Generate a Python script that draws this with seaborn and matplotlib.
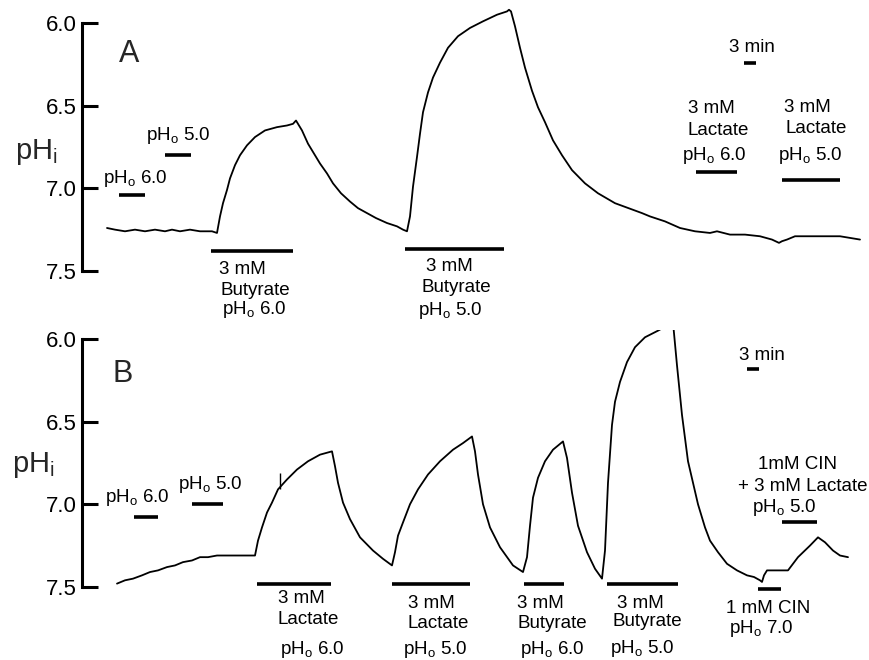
import matplotlib
matplotlib.use("Agg")
import matplotlib.pyplot as plt
import pandas as pd
import seaborn as sns

# ---------------- data ----------------
# Panel A: intracellular pH trace (time in min)
time_a = [6.25, 8.25, 10.75, 13.25, 15.75, 18.25, 20.75, 22.5, 24.5, 27.0, 29.5, 30.75, 32.5, 33.75,
          34.5, 35.25, 36.25, 37.0, 38.25, 39.5, 41.25, 43.25, 45.75, 48.75, 51.25, 52.75, 53.5,
          55.0, 56.5, 58.0, 59.5, 61.25, 62.75, 64.75, 67.0, 69.0, 71.25, 73.5, 76.25, 78.75,
          80.25, 81.25,
          82.0, 82.75, 83.75, 84.5, 85.25, 86.5, 87.75, 89.5, 91.5, 94.0, 97.0, 100.25, 103.75,
          106.25, 106.75,
          107.25, 108.25, 109.5, 110.75, 112.5, 114.0, 115.75, 117.75, 120.0, 122.5, 125.75,
          129.0, 133.25, 140.0, 142.0, 145.75, 149.5, 153.25, 157.0, 158.75, 162.0, 165.75,
          169.5, 172.5, 174.25, 175.0, 176.25, 178.25, 181.25, 184.5, 187.0, 189.5, 192.0, 194.5]
ph_a = [7.24, 7.25, 7.26, 7.25, 7.26, 7.25, 7.26, 7.25, 7.26, 7.25, 7.26, 7.26, 7.26, 7.27,
        7.17, 7.09, 7.01, 6.94, 6.86, 6.80, 6.74, 6.69, 6.65, 6.63, 6.62, 6.61, 6.59,
        6.65, 6.73, 6.79, 6.85, 6.91, 6.97, 7.03, 7.08, 7.12, 7.15, 7.18, 7.21, 7.23,
        7.25, 7.26,
        7.17, 6.99, 6.81, 6.67, 6.54, 6.42, 6.33, 6.24, 6.15, 6.08, 6.03, 5.99, 5.95,
        5.93, 5.92,
        5.93, 6.02, 6.15, 6.27, 6.41, 6.51, 6.60, 6.71, 6.80, 6.89, 6.97,
        7.03, 7.09, 7.15, 7.17, 7.20, 7.24, 7.26, 7.27, 7.26, 7.28, 7.28,
        7.29, 7.31, 7.33, 7.32, 7.31, 7.29, 7.29, 7.29, 7.29, 7.29, 7.30, 7.31]

# Panel B: intracellular pH trace (time in min)
time_b = [8.75, 10.75, 12.75, 15.0, 17.0, 19.0, 21.25, 23.25, 25.25, 27.5, 29.5, 31.5, 33.75,
          35.75, 37.75, 40.75, 43.25,
          44.0, 45.0, 46.25, 47.5, 49.0, 51.25, 53.75, 56.5, 59.5, 62.5,
          63.25, 64.0, 65.25, 67.0, 69.5, 72.75, 75.25, 77.5,
          78.25, 79.0, 80.25, 82.0, 84.0, 86.5, 89.5, 92.75, 95.25, 97.5,
          98.25, 99.0, 100.25, 102.0, 104.5, 107.75, 110.25,
          111.25, 112.0, 112.75, 114.0, 115.75, 117.75, 120.25,
          121.25, 122.5, 124.0, 126.25, 128.25, 130.0,
          130.75, 131.5, 132.5, 133.25, 134.5, 136.25, 138.25, 140.75, 144.0, 147.75,
          148.75, 150.0, 151.5, 154.0, 155.75, 157.0, 159.0, 161.25, 163.75, 166.25, 168.0, 169.5,
          170.0, 170.5, 171.25, 172.75, 174.5, 175.75, 176.5, 179.0, 182.0, 184.0, 185.75,
          187.75, 189.5, 191.5]
ph_b = [7.48, 7.46, 7.45, 7.43, 7.41, 7.40, 7.38, 7.37, 7.35, 7.34, 7.32, 7.32, 7.31,
        7.31, 7.31, 7.31, 7.31,
        7.22, 7.14, 7.05, 6.99, 6.91, 6.85, 6.79, 6.74, 6.70, 6.68,
        6.77, 6.87, 6.99, 7.09, 7.20, 7.28, 7.33, 7.37,
        7.29, 7.19, 7.11, 7.00, 6.91, 6.82, 6.74, 6.67, 6.63, 6.59,
        6.68, 6.82, 7.00, 7.14, 7.26, 7.37, 7.41,
        7.32, 7.13, 6.96, 6.84, 6.74, 6.67, 6.62,
        6.72, 6.93, 7.13, 7.29, 7.39, 7.45,
        7.28, 6.87, 6.52, 6.38, 6.26, 6.14, 6.05, 5.99, 5.95, 5.90,
        6.16, 6.46, 6.74, 7.00, 7.14, 7.22, 7.29, 7.36, 7.40, 7.43, 7.44, 7.46,
        7.47, 7.43, 7.40, 7.40, 7.40, 7.40, 7.40, 7.32, 7.25, 7.20, 7.23,
        7.28, 7.31, 7.32]

# event mark on the trace in B (time, pH from, pH to)
mark_b_time = [49.5]
mark_b_lo = [6.81]
mark_b_hi = [6.91]

# solution-change bars: start, end (min), drawn at a pH level
bar_a_start = [9.25, 20.75, 32.25, 80.75, 153.5, 175.0]
bar_a_end = [15.75, 27.25, 52.75, 105.5, 163.75, 189.5]
bar_a_level = [7.04, 6.80, 7.38, 7.37, 6.90, 6.95]

bar_b_start = [13.0, 27.5, 43.75, 77.5, 110.5, 131.25, 169.0, 175.0]
bar_b_end = [19.0, 35.25, 62.25, 97.0, 120.5, 149.0, 174.75, 183.75]
bar_b_level = [7.08, 7.00, 7.48, 7.48, 7.48, 7.48, 7.51, 7.11]

# 3-min time scale bar
scale_minutes = 3.0

ph_ticks = [6.0, 6.5, 7.0, 7.5]
ph_ticklabels = ["6.0", "6.5", "7.0", "7.5"]

PHO = r"pH$_\mathrm{o}$"

# text blocks: (text, time, pH)
text_a = [
    (f"{PHO} 6.0", 13.25, 6.94),
    (f"{PHO} 5.0", 24.0, 6.68),
    ("3 mM", 40.0, 7.49), ("Butyrate", 43.25, 7.62), (f"{PHO} 6.0", 43.0, 7.73),
    ("3 mM", 91.75, 7.47), ("Butyrate", 93.5, 7.60), (f"{PHO} 5.0", 92.0, 7.74),
    ("3 mM", 157.25, 6.52), ("Lactate", 159.0, 6.65), (f"{PHO} 6.0", 158.0, 6.80),
    ("3 mM", 181.25, 6.51), ("Lactate", 183.5, 6.64), (f"{PHO} 5.0", 182.0, 6.80),
    ("3 min", 167.5, 6.15),
]
text_b = [
    (f"{PHO} 6.0", 13.75, 6.96),
    (f"{PHO} 5.0", 32.0, 6.88),
    ("3 mM", 54.75, 7.57), ("Lactate", 56.5, 7.70), (f"{PHO} 6.0", 57.5, 7.88),
    ("3 mM", 87.25, 7.60), ("Lactate", 89.0, 7.72), (f"{PHO} 5.0", 88.25, 7.88),
    ("3 mM", 114.5, 7.60), ("Butyrate", 117.5, 7.72), (f"{PHO} 6.0", 117.5, 7.88),
    ("3 mM", 139.5, 7.60), ("Butyrate", 141.25, 7.71), (f"{PHO} 5.0", 140.0, 7.87),
    ("1 mM CIN", 171.5, 7.63), (f"{PHO} 7.0", 169.75, 7.75),
    ("1mM CIN", 179.0, 6.76), ("+ 3 mM Lactate", 180.25, 6.89), (f"{PHO} 5.0", 175.5, 7.02),
    ("3 min", 170.0, 6.10),
]

# ---------------- style ----------------
sns.set_theme(style="white")
plt.rcParams["font.family"] = ["Liberation Sans", "DejaVu Sans"]
plt.rcParams["mathtext.fontset"] = "custom"
plt.rcParams["mathtext.rm"] = "Liberation Sans"
plt.rcParams["mathtext.it"] = "Liberation Sans:italic"
plt.rcParams["mathtext.bf"] = "Liberation Sans:bold"

fig = plt.figure(figsize=(8.7, 6.6), dpi=100)
ax_a = fig.add_axes([82 / 870, 0.5, 788 / 870, 0.5])
ax_b = fig.add_axes([82 / 870, 0.0, 788 / 870, 0.5])

df_a = pd.DataFrame({"time": time_a, "pH": ph_a})
df_b = pd.DataFrame({"time": time_b, "pH": ph_b})


def style_panel(ax, ylim):
    ax.set_xlim(0, 197)
    ax.set_ylim(*ylim)
    sns.despine(ax=ax, top=True, right=True, bottom=True, left=False)
    ax.spines["left"].set_bounds(6.0, 7.5)
    ax.spines["left"].set_linewidth(2.2)
    ax.spines["left"].set_color("black")
    ax.set_yticks(ph_ticks)
    ax.set_yticklabels(ph_ticklabels)
    ax.set_xticks([])
    ax.tick_params(axis="y", direction="in", length=11.5, width=2.2, pad=3.5,
                   labelsize=16, colors="black", left=True)
    ax.set_xlabel("")
    ax.set_ylabel("")
    ax.patch.set_alpha(0)


def draw_bars(ax, starts, ends, levels):
    ax.hlines(levels, starts, ends, colors="black", linewidth=2.6)


def draw_texts(ax, items):
    for s, x, y in items:
        ax.text(x, y, s, ha="center", va="center", fontsize=13.5, color="black")


# Panel A
sns.lineplot(data=df_a, x="time", y="pH", ax=ax_a, color="black", linewidth=1.3,
             estimator=None, sort=False, legend=False)
style_panel(ax_a, (7.857, 5.861))
draw_bars(ax_a, bar_a_start, bar_a_end, bar_a_level)
ax_a.hlines([6.24], [165.5], [165.5 + scale_minutes], colors="black", linewidth=2.6)
draw_texts(ax_a, text_a)
ax_a.text(11.75, 6.19, "A", ha="center", va="center", fontsize=22)

# Panel B
sns.lineplot(data=df_b, x="time", y="pH", ax=ax_b, color="black", linewidth=1.3,
             estimator=None, sort=False, legend=False)
style_panel(ax_b, (7.942, 5.946))
draw_bars(ax_b, bar_b_start, bar_b_end, bar_b_level)
ax_b.vlines(mark_b_time, mark_b_lo, mark_b_hi, colors="black", linewidth=1.0)
ax_b.hlines([6.18], [166.25], [166.25 + scale_minutes], colors="black", linewidth=2.6)
draw_texts(ax_b, text_b)
ax_b.text(10.25, 6.21, "B", ha="center", va="center", fontsize=22)

# y-axis titles
fig.text(36 / 870, 1 - 152 / 660, r"pH$_\mathrm{i}$", ha="center", va="center", fontsize=21)
fig.text(33 / 870, 1 - 465 / 660, r"pH$_\mathrm{i}$", ha="center", va="center", fontsize=21)

fig.savefig("out.png", dpi=100, facecolor="white")
